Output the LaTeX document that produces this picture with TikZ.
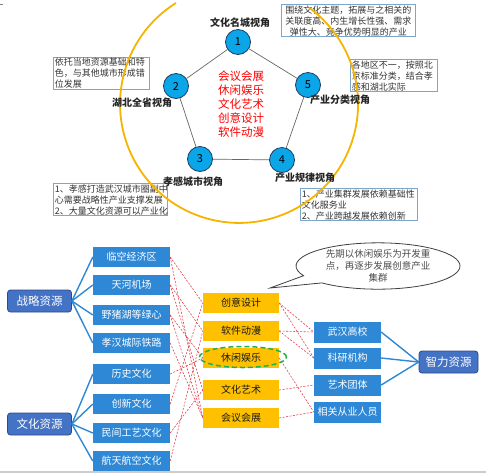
\documentclass[tikz,border=0pt]{standalone}
\usepackage{fontspec}
\setmainfont{Noto Sans CJK SC}
\usetikzlibrary{shapes.geometric,shapes.callouts}
\definecolor{bluebox}{HTML}{2E88D6}
\definecolor{resfill}{HTML}{4472C4}
\definecolor{resdraw}{HTML}{2F4A86}
\definecolor{orangebox}{HTML}{FFC000}
\definecolor{circfill}{HTML}{0AA6E8}
\definecolor{circdraw}{HTML}{1F3A5F}
\definecolor{tboxc}{HTML}{7EA6C8}
\definecolor{arcc}{HTML}{F5B400}
\definecolor{reddash}{HTML}{E3404A}
\definecolor{greend}{HTML}{22B04A}
\begin{document}
\begin{tikzpicture}[x=1pt,y=-1pt,
  numc/.style={circle,draw=circdraw,fill=circfill,line width=0.8pt,minimum size=25pt,inner sep=0pt,font=\fontsize{11}{12}\selectfont},
  vlabel/.style={font=\fontsize{10}{12}\selectfont\bfseries,text=black!85},
  tbox/.style={draw=tboxc,line width=0.8pt,font=\fontsize{9}{11}\selectfont,text=black!80,inner xsep=1.5pt,inner ysep=1pt,anchor=north west},
  lbox/.style={fill=bluebox,text=white,minimum width=77pt,minimum height=20pt,inner sep=0pt,font=\fontsize{10}{12}\selectfont},
  rbox/.style={fill=bluebox,text=white,minimum width=67pt,minimum height=21pt,inner sep=0pt,font=\fontsize{10}{12}\selectfont},
  resbox/.style={fill=resfill,draw=resdraw,line width=0.8pt,rounded corners=3pt,text=white,minimum width=64pt,minimum height=22pt,inner sep=0pt,font=\fontsize{11.5}{13}\selectfont},
  obox/.style={fill=orangebox,text=black!90,minimum width=76pt,minimum height=20pt,inner sep=0pt,font=\fontsize{10}{12}\selectfont},
  bline/.style={draw=bluebox,line width=1.4pt},
  rline/.style={draw=reddash,line width=0.6pt,dash pattern=on 2pt off 1.5pt},
  pline/.style={draw=black!60,line width=0.7pt}
]
\useasboundingbox (0,0) rectangle (486,475);
% top-left tiny mark and bottom line
\coordinate (m1) at (0,4); \coordinate (m2) at (3,4);
\draw[black!50,line width=0.6pt] (m1) -- (m2);
\coordinate (g1) at (0,472); \coordinate (g2) at (486,472);
\draw[black!20,line width=1.5pt] (g1) -- (g2);

% text boxes
\node[tbox,text width=93pt,align=left] (ta) at (53,57) {依托当地资源基础和特\\色，与其他城市形成错\\位发展};
\node[tbox,text width=111pt,align=left] (tb) at (53,183) {1、孝感打造武汉城市圈副中\\心需要战略性产业支撑发展\\2、大量文化资源可以产业化};
\node[tbox,text width=131pt,align=center] (tc) at (281,4) {围绕文化主题，拓展与之相关的\\关联度高、内生增长性强、需求\\弹性大、竞争优势明显的产业};
\node[tbox,text width=84pt,align=left] (td) at (350,59) {各地区不一，按照北\\京标准分类，结合孝\\感和湖北实际};
\node[tbox,text width=114pt,align=left] (te) at (300,188) {1、产业集群发展依赖基础性\\文化服务业\\2、产业跨越发展依赖创新};

% big arc
\draw[arcc,line width=1.8pt] (176,3) arc[start angle=-122,end angle=-414,radius=119];

% pentagon
\node[numc] (c1) at (238,42) {1};
\node[numc] (c2) at (176,86) {2};
\node[numc] (c3) at (200,159) {3};
\node[numc] (c4) at (282,160) {4};
\node[numc] (c5) at (308,85) {5};
\draw[pline] (c1) -- (c2) (c2) -- (c3) (c3) -- (c4) (c4) -- (c5) (c5) -- (c1);

\node[vlabel] (l1) at (240,23) {文化名城视角};
\node[vlabel] (l2) at (142,103) {湖北全省视角};
\node[vlabel] (l3) at (193,182) {孝感城市视角};
\node[vlabel] (l4) at (305,178) {产业规律视角};
\node[vlabel] (l5) at (340,100) {产业分类视角};

\node[text=red,align=center,font=\fontsize{11.5}{14}\selectfont] (ctr) at (241,104)
  {会议会展\\休闲娱乐\\文化艺术\\创意设计\\软件动漫};

% callout
\coordinate (tip) at (270,288);
\node[ellipse callout,draw=black!75,fill=white,line width=0.8pt,minimum width=164pt,minimum height=46pt,
  callout absolute pointer={(tip)},callout pointer arc=22,align=center,inner sep=0pt,
  font=\fontsize{9.5}{12}\selectfont,text=black!70] (bub) at (378,266)
  {先期以休闲娱乐为开发重\\点，再逐步发展创意产业\\集群};

% left boxes
\node[resbox] (s1) at (39.5,301) {战略资源};
\node[resbox] (s2) at (39.5,424) {文化资源};
\node[lbox] (L1) at (131.5,257) {临空经济区};
\node[lbox] (L2) at (131.5,285) {天河机场};
\node[lbox] (L3) at (131.5,315) {野猪湖等绿心};
\node[lbox] (L4) at (131.5,343) {孝汉城际铁路};
\node[lbox] (L5) at (131.5,374) {历史文化};
\node[lbox] (L6) at (131.5,404) {创新文化};
\node[lbox] (L7) at (131.5,433) {民间工艺文化};
\node[lbox] (L8) at (131.5,461) {航天航空文化};
\foreach \i in {1,2,3,4} \draw[bline] (s1.east) -- (L\i.west);
\foreach \i in {5,6,7,8} \draw[bline] (s2.east) -- (L\i.west);

% orange boxes
\node[obox] (O1) at (241,303) {创意设计};
\node[obox] (O2) at (241,331) {软件动漫};
\node[obox] (O3) at (241,358) {休闲娱乐};
\node[obox] (O4) at (241,390) {文化艺术};
\node[obox] (O5) at (241,418) {会议会展};

% right boxes
\node[rbox] (R1) at (347.5,332) {武汉高校};
\node[rbox] (R2) at (347.5,358) {科研机构};
\node[rbox] (R3) at (347.5,385) {艺术团体};
\node[rbox] (R4) at (347.5,412) {相关从业人员};
\node[resbox,minimum width=59pt] (z) at (448.5,362) {智力资源};
\foreach \i in {1,2,3} \draw[bline] (R\i.east) -- (z.west);

% red dashed links left
\draw[rline] (L1.east) -- (O1.west);
\draw[rline] (L1.east) -- (O5.west);
\draw[rline] (L2.east) -- (O2.west);
\draw[rline] (L2.east) -- (O4.west);
\draw[rline] (L3.east) -- (O3.west);
\draw[rline] (L3.east) -- (O5.west);
\draw[rline] (L4.east) -- (O5.west);
\draw[rline] (L5.east) -- (O3.west);
\draw[rline] (L6.east) -- (O1.west);
\draw[rline] (L7.east) -- (O4.west);
\draw[rline] (L8.east) -- (O2.west);
% red dashed links right
\draw[rline] (O1.east) -- (R1.west);
\draw[rline] (O1.east) -- (R2.west);
\draw[rline] (O2.east) -- (R1.west);
\draw[rline] (O2.east) -- (R2.west);
\draw[rline] (O3.east) -- (R4.west);
\draw[rline] (O4.east) -- (R3.west);
\draw[rline] (O5.east) -- (R4.west);

% green dashed ellipse
\node[ellipse,draw=greend,line width=1.5pt,dash pattern=on 5pt off 3pt,minimum width=87pt,minimum height=21pt,inner sep=0pt] (ge) at (243,357) {};
\end{tikzpicture}
\end{document}
